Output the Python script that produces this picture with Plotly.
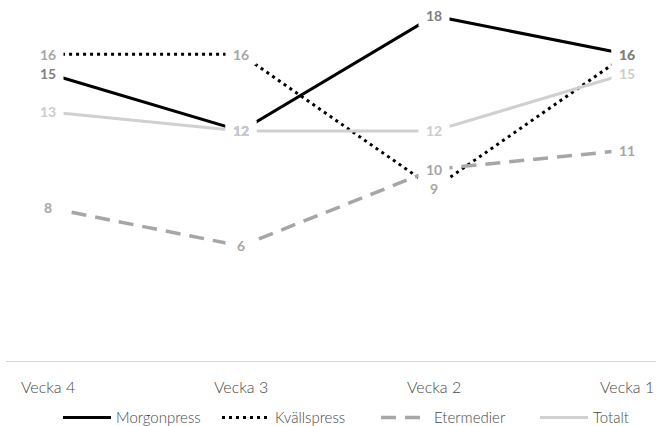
import plotly.graph_objects as go

# Weekly counts per media type
weeks = ["Vecka 4", "Vecka 3", "Vecka 2", "Vecka 1"]
morgonpress = [15, 12, 18, 16]
kvallspress = [16, 16, 9, 16]
etermedier = [8, 6, 10, 11]
totalt = [13, 12, 12, 15]

series = [
    # name, values, line colour, dash, width, label colour
    ("Morgonpress", morgonpress, "#000000", "solid", 3, "#7f7f7f"),
    ("Kvällspress", kvallspress, "#000000", "3px,4px", 3, "#a6a6a6"),
    ("Etermedier", etermedier, "#a6a6a6", "15px,9px", 3.5, "#a6a6a6"),
    ("Totalt", totalt, "#d0d0d0", "solid", 3, "#cccccc"),
]

FONT = "Lato"
TEXT_GREY = "#474747"

fig = go.Figure()
for name, vals, color, dash, width, _ in series:
    fig.add_trace(go.Scatter(
        x=weeks, y=vals, name=name, mode="lines",
        line=dict(color=color, dash=dash, width=width),
        hoverinfo="skip",
    ))

# White boxes behind each value label so the lines break around the numbers
annotations = []
for name, vals, color, dash, width, lab in series:
    for w, v in zip(weeks, vals):
        annotations.append(dict(
            x=w, y=v, xref="x", yref="y", text=str(v), showarrow=False,
            font=dict(family=FONT, size=14, color="rgba(0,0,0,0)"),
            bgcolor="white", width=30, height=20, borderpad=0,
        ))

# Value labels on top; Morgonpress drawn after Kvällspress so it wins on ties
label_order = [series[1], series[0], series[2], series[3]]
for name, vals, color, dash, width, lab in label_order:
    for w, v in zip(weeks, vals):
        annotations.append(dict(
            x=w, y=v, xref="x", yref="y", text="<b>%d</b>" % v,
            showarrow=False,
            font=dict(family=FONT, size=14, color=lab),
        ))

fig.update_layout(
    width=656, height=426,
    margin=dict(l=6, r=0, t=10, b=65, autoexpand=False),
    paper_bgcolor="white", plot_bgcolor="white",
    font=dict(family=FONT, color=TEXT_GREY),
    annotations=annotations,
    showlegend=True,
    legend=dict(
        orientation="h", x=0.08, xanchor="left", y=-0.162, yanchor="middle",
        font=dict(family=FONT, size=15, color=TEXT_GREY, weight=300),
        itemwidth=48, entrywidth=96, entrywidthmode="pixels",
        tracegroupgap=0, bgcolor="rgba(0,0,0,0)",
    ),
    xaxis=dict(
        type="category", range=[-0.218, 3.150],
        showgrid=False, zeroline=False,
        showline=True, linecolor="#d9d9d9", linewidth=1,
        ticks="", ticklabelstandoff=12,
        tickfont=dict(family=FONT, size=16, color=TEXT_GREY, weight=300),
        fixedrange=True,
    ),
    yaxis=dict(
        range=[0, 18.31], showgrid=False, zeroline=False,
        showline=False, showticklabels=False, ticks="",
        fixedrange=True,
    ),
    hovermode=False,
)

fig.write_html("out.html", config={"displayModeBar": False})
